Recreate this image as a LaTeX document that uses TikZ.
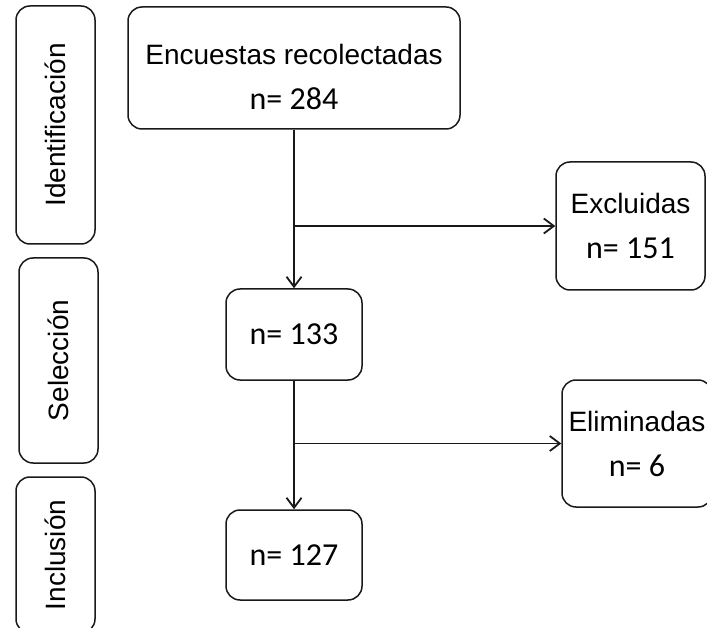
\documentclass[tikz,border=0pt]{standalone}
\usepackage{fontspec}
\setmainfont{Liberation Sans}
\newfontfamily\numfont{Carlito}
\usetikzlibrary{arrows.meta}
\newcommand\nval[1]{{\numfont\fontsize{32}{45}\selectfont n= #1}}
\newcommand\toppad{\rule{0pt}{39pt}}

\begin{document}
\begin{tikzpicture}[y=-1pt,x=1pt,
	box/.style={draw=black!90, line width=1.5pt, rounded corners=14pt, align=center, inner sep=0pt, font=\fontsize{28}{45}\selectfont},
	stage/.style={box, rotate=90, minimum height=79pt},
	flow/.style={draw=black!90, line width=1.8pt, -{Straight Barb[length=10pt,width=15pt]}}]
	\useasboundingbox (0,0) rectangle (707,628);
	\clip (0,0) rectangle (707,628);

	\node[stage, minimum width=238pt] (ident) at (55.5,125) {Identificación};
	\node[stage, minimum width=205pt] (selec) at (58.5,360.5) {Selección};
	\node[stage, minimum width=156pt] (incl) at (55.5,555) {Inclusión};

	\node[box, minimum width=332pt, minimum height=122pt] (enc) at (294,68) {\toppad Encuestas recolectadas\\\nval{284}};
	\node[box, minimum width=136pt, minimum height=91pt] (n133) at (294,334.5) {\nval{133}};
	\node[box, minimum width=136pt, minimum height=90pt] (n127) at (294,555) {\nval{127}};
	\node[box, minimum width=149pt, minimum height=128pt] (excl) at (630.5,226) {Excluidas\\\nval{151}};
	\node[box, minimum width=150pt, minimum height=127pt] (elim) at (637,443.5) {Eliminadas\\\nval{6}};

	\coordinate (excl-in) at (enc.south |- excl.west);
	\coordinate (elim-in) at (n133.south |- elim.west);

	\draw[flow] (enc) -- (n133);
	\draw[flow] (excl-in) -- (excl);
	\draw[flow] (n133) -- (n127);
	\draw[flow] (elim-in) -- (elim);
\end{tikzpicture}
\end{document}
